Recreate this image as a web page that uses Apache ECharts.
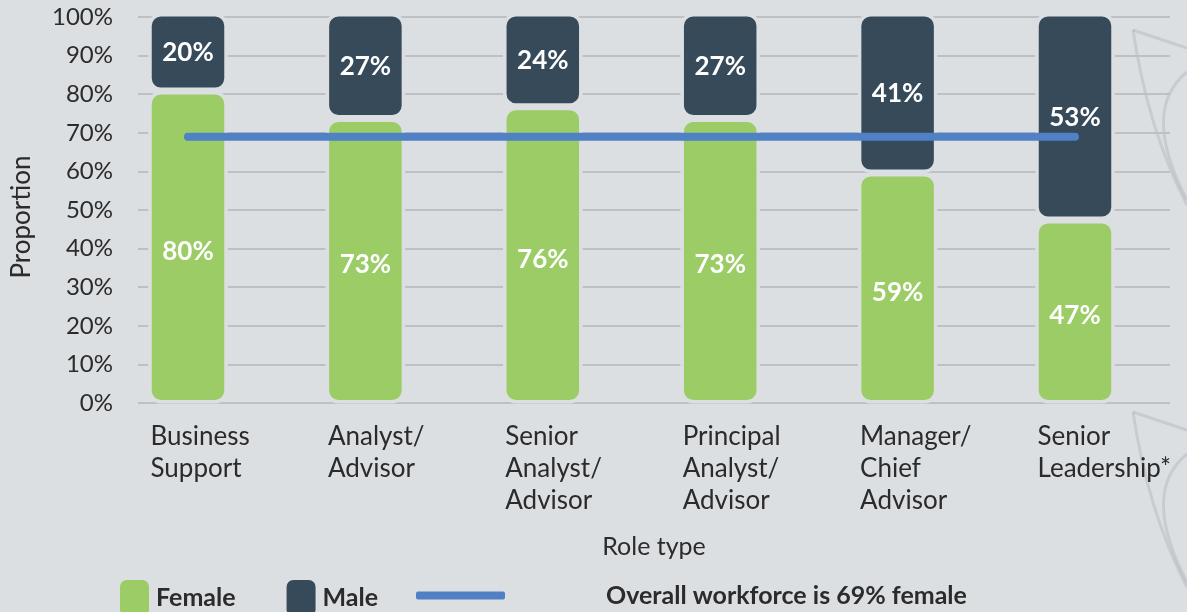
<!DOCTYPE html>
<html>
<head>
<meta charset="utf-8">
<script src="https://cdn.jsdelivr.net/npm/echarts@6/dist/echarts.min.js"></script>
<style>
html,body{margin:0;padding:0;background:#dcdfe2;}
#chart{width:1187px;height:612px;}
</style>
</head>
<body>
<div id="chart"></div>
<script>
const categories = ['Business\nSupport', 'Analyst/\nAdvisor', 'Senior\nAnalyst/\nAdvisor', 'Principal\nAnalyst/\nAdvisor', 'Manager/\nChief\nAdvisor', 'Senior\nLeadership*'];
const female = [80, 73, 76, 73, 59, 47];
const male = [20, 27, 24, 27, 41, 53];
const overall = [69, 69, 69, 69, 69, 69];
const yTickLabels = ['0%', '10%', '20%', '30%', '40%', '50%', '60%', '70%', '80%', '90%', '100%'];

const BG = '#dcdfe2';
const GREEN = '#9bcc66';
const DARK = '#364a5a';
const BLUE = '#4f81c4';
const TXT = '#2b2b2b';
const FONT = 'Lato, "Open Sans", sans-serif';
const DECO = 'rgba(160,165,172,0.32)';

const chart = echarts.init(document.getElementById('chart'));
const gTop = 17, gBottom = 209;
const barGridLeft = 99.3, barGridWidth = 1064.4;

function deco(dy) {
  const st = { fill: null, stroke: DECO, lineWidth: 3 };
  return [
    { type: 'bezierCurve', shape: { x1: 1133, y1: 30 + dy, cpx1: 1148, cpy1: 130 + dy, x2: 1187, y2: 205 + dy }, style: st },
    { type: 'line', shape: { x1: 1133, y1: 30 + dy, x2: 1187, y2: 48 + dy }, style: st },
    { type: 'bezierCurve', shape: { x1: 1187, y1: 72 + dy, cpx1: 1140, cpy1: 110 + dy, x2: 1187, y2: 200 + dy }, style: st }
  ];
}

chart.setOption({
  backgroundColor: BG,
  animation: false,
  textStyle: { fontFamily: FONT },
  graphic: [
    { type: 'group', z: -10, silent: true, children: deco(0).concat(deco(382)) }
  ],
  grid: [
    { left: 138, right: 17, top: gTop, bottom: gBottom },
    { left: barGridLeft, width: barGridWidth, top: gTop, bottom: gBottom },
    { left: barGridLeft - 37.5, width: barGridWidth, top: gTop, bottom: gBottom },
    { left: barGridLeft, width: barGridWidth, top: 13, bottom: 208.5 }
  ],
  legend: [
    {
      left: 113, top: 573, itemWidth: 31, itemHeight: 38, itemGap: 49,
      icon: 'roundRect',
      data: ['Female', 'Male'],
      textStyle: { fontFamily: FONT, fontWeight: 'bold', fontSize: 25, color: TXT, padding: [0, 0, 0, 1] }
    },
    {
      left: 411, top: 578, itemWidth: 89, itemHeight: 8,
      data: [{ name: 'Overall workforce is 69% female', icon: 'roundRect' }],
      textStyle: { fontFamily: FONT, fontWeight: 'bold', fontSize: 25, color: TXT, padding: [0, 0, 0, 96] }
    }
  ],
  xAxis: [
    {
      gridIndex: 0, type: 'value', min: 0, max: 1,
      axisLine: { show: false }, axisTick: { show: false }, axisLabel: { show: false }, splitLine: { show: false },
      name: 'Role type', nameLocation: 'middle', nameGap: 131,
      nameTextStyle: { fontFamily: FONT, fontSize: 25, color: TXT }
    },
    {
      gridIndex: 1, type: 'category', data: categories,
      axisLine: { show: false }, axisTick: { show: false }, axisLabel: { show: false }
    },
    {
      gridIndex: 2, type: 'category', data: categories,
      axisLine: { show: false }, axisTick: { show: false },
      axisLabel: { align: 'left', margin: 18, fontFamily: FONT, fontSize: 26, lineHeight: 32, color: TXT, interval: 0 }
    },
    {
      gridIndex: 3, type: 'category', data: categories,
      axisLine: { show: false }, axisTick: { show: false }, axisLabel: { show: false }
    }
  ],
  yAxis: [
    {
      gridIndex: 0, type: 'value', min: 0, max: 100, interval: 10,
      axisLine: { show: false }, axisTick: { show: false },
      axisLabel: { margin: 25, fontFamily: FONT, fontSize: 24, color: TXT, formatter: v => yTickLabels[Math.round(v / 10)] },
      splitLine: { lineStyle: { color: '#bfc0c3', width: 2 } },
      name: 'Proportion', nameLocation: 'middle', nameRotate: 90, nameGap: 103,
      nameTextStyle: { fontFamily: FONT, fontSize: 26, color: TXT, padding: [0, 14, 0, 0] }
    },
    { gridIndex: 1, type: 'value', min: 0, max: 100, show: false },
    { gridIndex: 2, type: 'value', min: 0, max: 100, show: false },
    { gridIndex: 3, type: 'value', min: 0, max: 100, show: false }
  ],
  series: [
    {
      name: 'Female', type: 'bar', stack: 'g', xAxisIndex: 3, yAxisIndex: 3,
      data: female, barWidth: 79.5,
      itemStyle: { color: GREEN, borderRadius: 11, borderColor: BG, borderWidth: 3.5 },
      label: { show: true, position: 'inside', offset: [0, 4], formatter: '{c}%', color: '#fff', fontFamily: FONT, fontWeight: 'bold', fontSize: 26 }
    },
    {
      name: 'Male', type: 'bar', stack: 'g', xAxisIndex: 3, yAxisIndex: 3,
      data: male, barWidth: 79.5,
      itemStyle: { color: DARK, borderRadius: 11, borderColor: BG, borderWidth: 3.5 },
      label: { show: true, position: 'inside', offset: [0, 1], formatter: '{c}%', color: '#fff', fontFamily: FONT, fontWeight: 'bold', fontSize: 26 }
    },
    {
      name: 'Overall workforce is 69% female', type: 'line', xAxisIndex: 1, yAxisIndex: 1,
      data: overall, symbol: 'none', z: 5,
      itemStyle: { color: BLUE },
      lineStyle: { color: BLUE, width: 8, cap: 'round' }
    }
  ]
});
</script>
</body>
</html>
